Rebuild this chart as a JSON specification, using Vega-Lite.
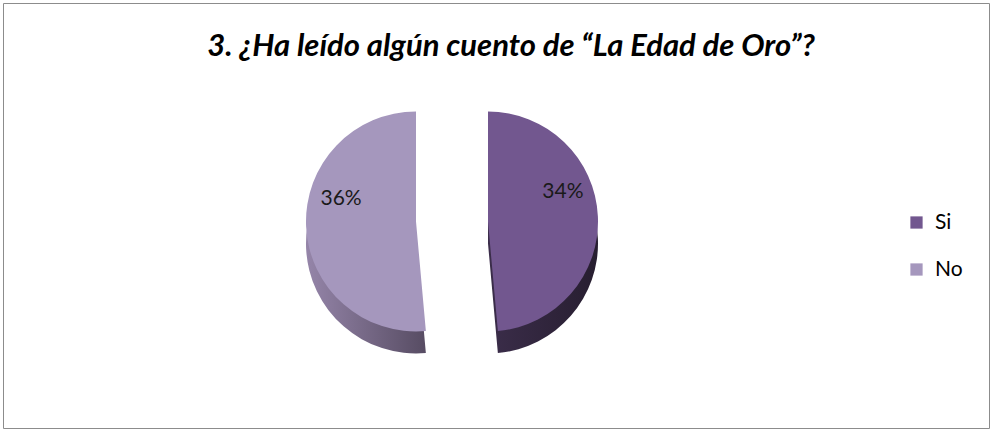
{
  "$schema": "https://vega.github.io/schema/vega-lite/v6.json",
  "width": 992,
  "height": 431,
  "autosize": {"type": "fit", "contains": "padding"},
  "padding": 3,
  "background": "white",
  "view": {"stroke": "#8c8c8c", "strokeWidth": 1},
  "config": {"view": {"stroke": "#8c8c8c", "strokeWidth": 1}},
  "title": {
    "text": "3. ¿Ha leído algún cuento de “La Edad de Oro”?",
    "font": "Lato",
    "fontStyle": "italic",
    "fontWeight": "bold",
    "fontSize": 31,
    "color": "#000000",
    "anchor": "middle",
    "offset": -60,
    "dx": 15
  },
  "data": {
    "values": [
      {"respuesta": "Si", "porcentaje": 34, "etiqueta": "34%", "orden": 1},
      {"respuesta": "No", "porcentaje": 36, "etiqueta": "36%", "orden": 2}
    ]
  },
  "transform": [
    {"stack": "porcentaje", "groupby": [], "sort": [{"field": "orden"}], "as": ["inicio", "fin"]}
  ],
  "layer": [
    {
      "transform": [{"filter": "datum.respuesta === 'Si'"}],
      "mark": {
        "type": "arc", "radius": 110, "xOffset": -8, "yOffset": 28,
        "color": {"gradient": "linear", "x1": 0, "x2": 1, "y1": 0, "y2": 0,
          "stops": [{"offset": 0, "color": "#3b2d4a"}, {"offset": 1, "color": "#271e30"}]}
      },
      "encoding": {
        "theta": {"field": "inicio", "type": "quantitative", "scale": {"domain": [0, 70], "range": [0, 6.2832]}},
        "theta2": {"field": "fin"}
      }
    },
    {
      "transform": [{"filter": "datum.respuesta === 'No'"}],
      "mark": {
        "type": "arc", "radius": 110, "xOffset": -80, "yOffset": 28,
        "color": {"gradient": "linear", "x1": 0, "x2": 1, "y1": 0, "y2": 0,
          "stops": [{"offset": 0, "color": "#9585a9"}, {"offset": 1, "color": "#574c63"}]}
      },
      "encoding": {
        "theta": {"field": "inicio", "type": "quantitative", "scale": {"domain": [0, 70], "range": [0, 6.2832]}},
        "theta2": {"field": "fin"}
      }
    },
    {
      "transform": [{"filter": "datum.respuesta === 'Si'"}],
      "mark": {"type": "arc", "radius": 110, "xOffset": -8, "yOffset": 6},
      "encoding": {
        "theta": {"field": "inicio", "type": "quantitative", "scale": {"domain": [0, 70], "range": [0, 6.2832]}},
        "theta2": {"field": "fin"},
        "color": {
          "field": "respuesta", "type": "nominal",
          "scale": {"domain": ["Si", "No"], "range": ["#72578f", "#a597bd"]},
          "legend": {
            "orient": "none", "legendX": 903, "legendY": 209, "title": null,
            "symbolType": "square", "symbolSize": 150, "symbolStrokeWidth": 0,
            "labelFont": "Lato", "labelFontSize": 21, "labelColor": "#000000",
            "rowPadding": 25, "labelOffset": 8
          }
        }
      }
    },
    {
      "transform": [{"filter": "datum.respuesta === 'No'"}],
      "mark": {"type": "arc", "radius": 110, "xOffset": -80, "yOffset": 6},
      "encoding": {
        "theta": {"field": "inicio", "type": "quantitative", "scale": {"domain": [0, 70], "range": [0, 6.2832]}},
        "theta2": {"field": "fin"},
        "color": {"field": "respuesta", "type": "nominal"}
      }
    },
    {
      "mark": {"type": "text", "radius": 75, "xOffset": {"expr": "datum.respuesta === 'Si' ? -8 : -80"}, "yOffset": -20, "font": "Lato", "fontSize": 21, "color": "#1a1a1a"},
      "encoding": {
        "theta": {"field": "porcentaje", "type": "quantitative", "stack": true, "scale": {"domain": [0, 70], "range": [0, 6.2832]}},
        "order": {"field": "orden"},
        "text": {"field": "etiqueta", "type": "nominal"}
      }
    }
  ]
}
